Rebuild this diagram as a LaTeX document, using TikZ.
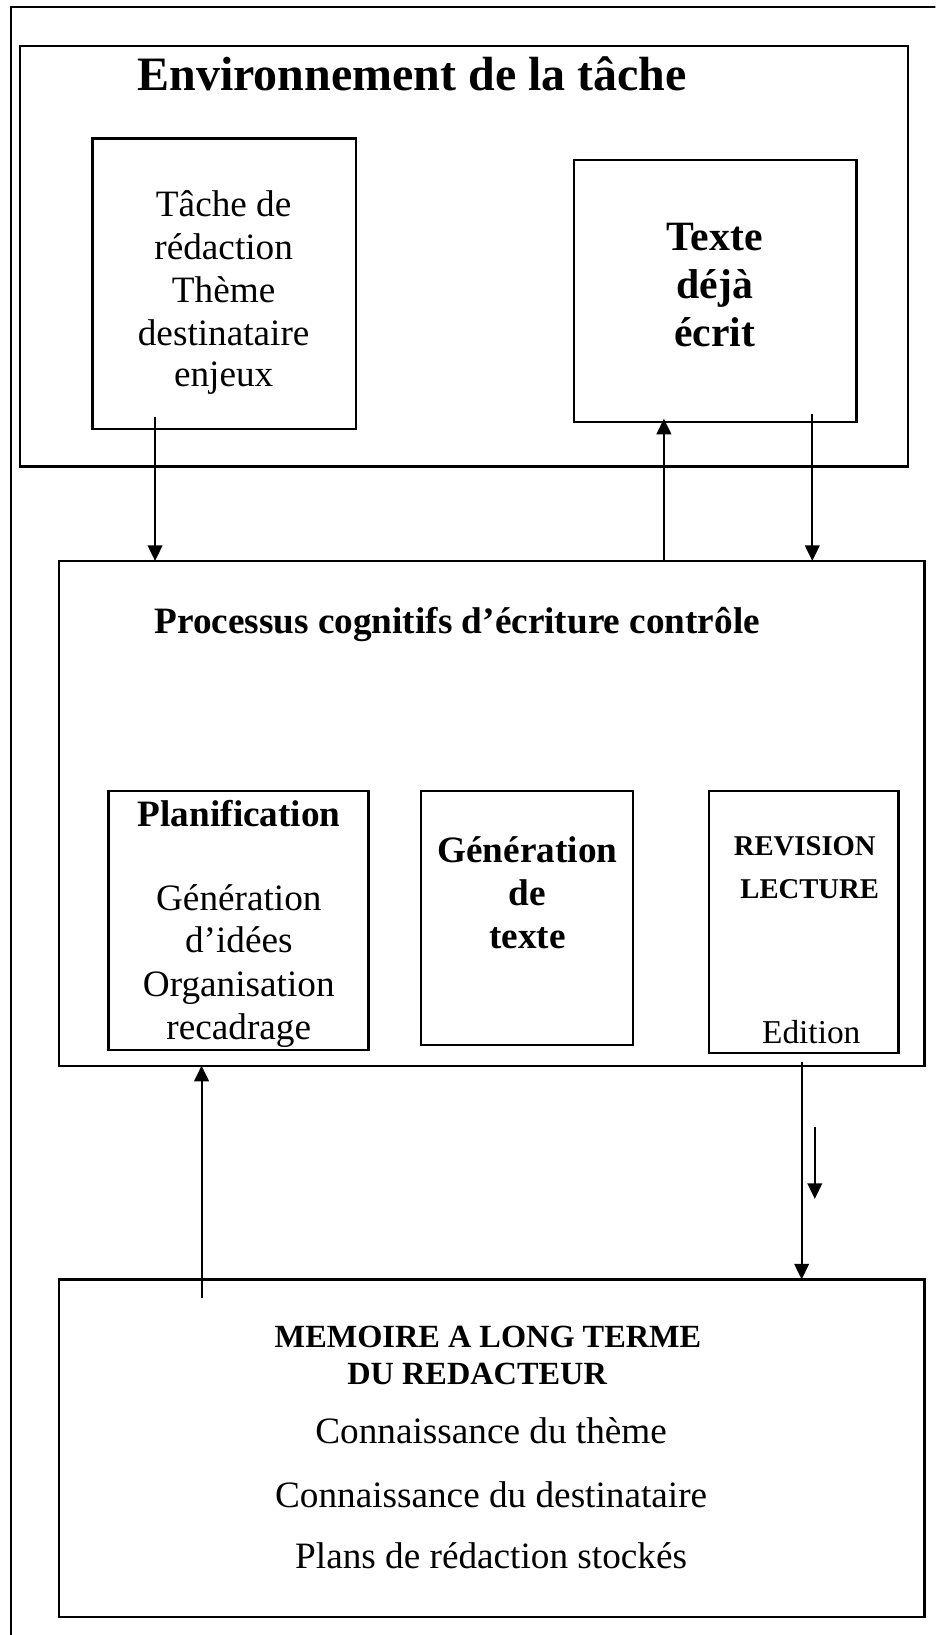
\documentclass[tikz,border=0pt]{standalone}
\usepackage{fontspec}
\setmainfont{Liberation Serif}
\usetikzlibrary{arrows.meta,calc}
\begin{document}
\begin{tikzpicture}[x=1pt,y=-1pt,
  box/.style 2 args={draw, line width=2.2pt, minimum width=#1, minimum height=#2, anchor=north west, inner sep=0pt, outer sep=0pt},
  frame/.style={line width=1.6pt},
  arr/.style={line width=2pt, -{Triangle[length=15pt,width=14pt]}},
  reg/.style={anchor=base, inner sep=0pt, font=\fontsize{35.7}{40}\selectfont},
  bld/.style={anchor=base, inner sep=0pt, font=\fontsize{35.7}{40}\selectfont\bfseries},
  big/.style={anchor=base, inner sep=0pt, font=\fontsize{46}{52}\selectfont\bfseries},
  mid/.style={anchor=base, inner sep=0pt, font=\fontsize{40}{46}\selectfont\bfseries},
  caps/.style={anchor=base, inner sep=0pt, font=\fontsize{27.5}{32}\selectfont\bfseries},
  memc/.style={anchor=base, inner sep=0pt, font=\fontsize{31}{35}\selectfont\bfseries},
  edt/.style={anchor=base, inner sep=0pt, font=\fontsize{32}{36}\selectfont}
]
\useasboundingbox (0,0) rectangle (897,1568);
\clip (0,0) rectangle (897,1568);
% outer frame (right and bottom sides lie outside the picture)
\draw[frame] (10.3,1600) -- (10.3,6.4) -- (920,6.4);

% boxes
\node[box={852pt}{403.5pt}] (env) at (19,44) {};
\node[box={252.8pt}{278.9pt}] (tache) at (88.7,132.7) {};
\node[box={271.2pt}{251pt}] (texte) at (550.3,153.5) {};
\node[box={830pt}{484pt}] (proc) at (56.5,538) {};
\node[box={249.5pt}{248.5pt}] (plan) at (104,758.5) {};
\node[box={203pt}{243.5pt}] (gen) at (404,758.5) {};
\node[box={182pt}{251.5pt}] (rev) at (679.6,758.5) {};
\node[box={830pt}{324pt}] (mem) at (56.5,1227) {};

% texts
\node[big] (ttl) at (395.3,87) {Environnement de la tâche};
\node[reg] (t1) at (214.5,208) {Tâche de};
\node[reg] (t2) at (214.5,249) {rédaction};
\node[reg] (t3) at (214.5,290) {Thème};
\node[reg] (t4) at (214.5,331) {destinataire};
\node[reg] (t5) at (214.5,371) {enjeux};
\node[mid] (x1) at (685.5,239.8) {Texte};
\node[mid] (x2) at (685.5,286.2) {déjà};
\node[mid] (x3) at (685.5,332.6) {écrit};
\node[bld] (pt) at (438.5,607.3) {Processus cognitifs d’écriture contrôle};
\node[bld] (p0) at (229.4,792.7) {Planification};
\node[reg] (p1) at (229,873.5) {Génération};
\node[reg] (p2) at (229,913.9) {d’idées};
\node[reg] (p3) at (229,956) {Organisation};
\node[reg] (p4) at (229,996.5) {recadrage};
\node[bld] (g1) at (505.8,827.6) {Génération};
\node[bld] (g2) at (505.8,868.8) {de};
\node[bld] (g3) at (505.8,909.2) {texte};
\node[caps] (r1) at (771.8,820.2) {REVISION};
\node[caps] (r2) at (776.5,861.2) {LECTURE};
\node[edt] (r3) at (778,1000.9) {Edition};
\node[memc] (m1) at (468,1292.5) {MEMOIRE A LONG TERME};
\node[memc] (m2) at (457.6,1327.7) {DU REDACTEUR};
\node[reg] (m3) at (471,1384.6) {Connaissance du thème};
\node[reg] (m4) at (471,1446) {Connaissance du destinataire};
\node[reg] (m5) at (471,1504.5) {Plans de rédaction stockés};

% connectors
\coordinate (a1s) at (148.7,399.7);
\draw[arr] (a1s) -- (a1s |- proc.north);
\coordinate (a2x) at (636.7,500);
\draw[arr] (a2x |- proc.north) -- ($(a2x |- texte.south)+(0,-3)$);
\coordinate (a3s) at (779,397);
\draw[arr] (a3s) -- (a3s |- proc.north);
\coordinate (a4s) at (193.3,1245);
\draw[arr] (a4s) -- (a4s |- proc.south);
\coordinate (a5s) at (768.8,1018);
\draw[arr] (a5s) -- (a5s |- mem.north);
\coordinate (a6s) at (781.4,1080.7);
\coordinate (a6e) at (781.4,1149.8);
\draw[arr] (a6s) -- (a6e);
\end{tikzpicture}
\end{document}
